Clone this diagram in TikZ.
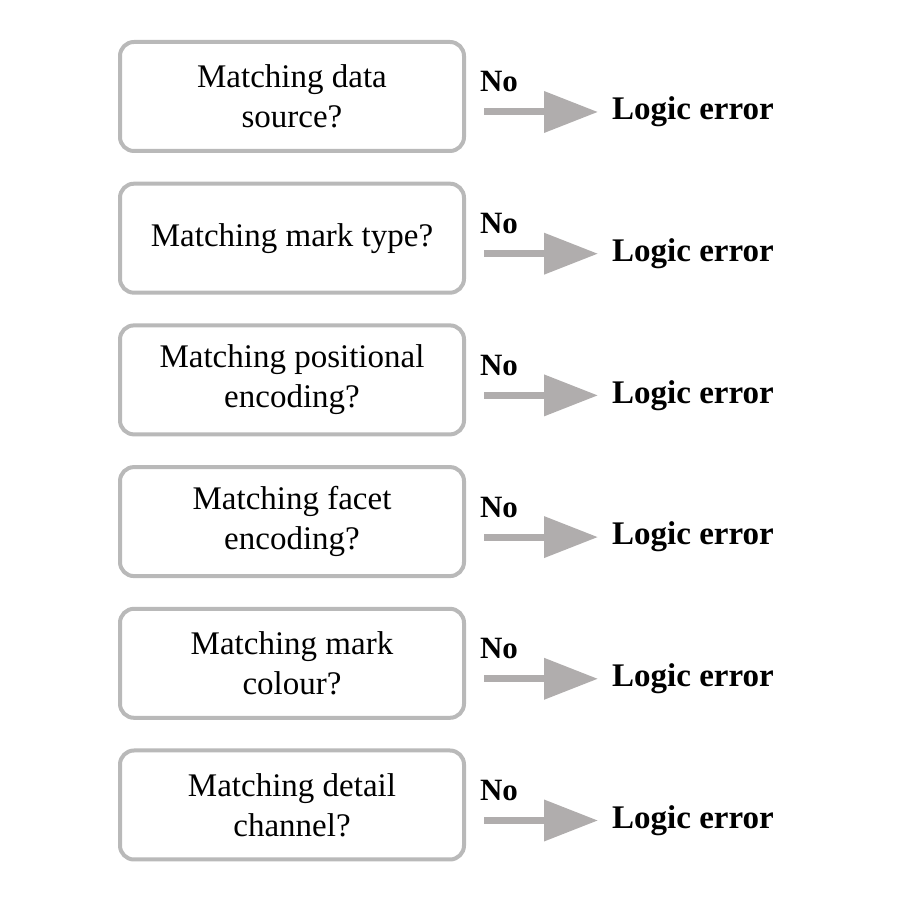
\documentclass[tikz,border=0pt]{standalone}
\usepackage{fontspec}
\setmainfont{Liberation Serif}
\usetikzlibrary{arrows.meta}
\definecolor{boxgray}{RGB}{185,185,185}
\definecolor{arrowgray}{RGB}{176,173,173}
\tikzset{
  qbox/.style={draw=boxgray,line width=4pt,rounded corners=14pt,minimum width=344pt,minimum height=109pt,align=center,font=\fontsize{33}{40}\selectfont,inner sep=0pt},
  nolabel/.style={font=\fontsize{31}{36}\selectfont\bfseries,inner sep=0pt},
  errlabel/.style={font=\fontsize{33}{40}\selectfont\bfseries,inner sep=0pt,anchor=west},
  noarrow/.style={draw=arrowgray,line width=7pt,-{Triangle[length=54pt,width=40pt]}}
}
\begin{document}
\begin{tikzpicture}[x=1pt,y=1pt]
\useasboundingbox (0,0) rectangle (898,907);

% row 1
\node[qbox] (q1) at (292,810.5) {Matching data\\source?};
\node[nolabel] (no1) at (499,825) {No};
\node[errlabel] (err1) at (612,795) {Logic error};
\draw[noarrow] ([xshift=18pt]q1.east |- err1.west) -- ([xshift=-14pt]err1.west);

% row 2
\node[qbox] (q2) at (292,668.8) {Matching mark type?};
\node[nolabel] (no2) at (499,683.3) {No};
\node[errlabel] (err2) at (612,653.3) {Logic error};
\draw[noarrow] ([xshift=18pt]q2.east |- err2.west) -- ([xshift=-14pt]err2.west);

% row 3
\node[qbox] (q3) at (292,527.1) {Matching positional\\encoding?};
\node[nolabel] (no3) at (499,541.6) {No};
\node[errlabel] (err3) at (612,511.6) {Logic error};
\draw[noarrow] ([xshift=18pt]q3.east |- err3.west) -- ([xshift=-14pt]err3.west);

% row 4
\node[qbox] (q4) at (292,385.4) {Matching facet\\encoding?};
\node[nolabel] (no4) at (499,399.9) {No};
\node[errlabel] (err4) at (612,369.9) {Logic error};
\draw[noarrow] ([xshift=18pt]q4.east |- err4.west) -- ([xshift=-14pt]err4.west);

% row 5
\node[qbox] (q5) at (292,243.7) {Matching mark\\colour?};
\node[nolabel] (no5) at (499,258.2) {No};
\node[errlabel] (err5) at (612,228.2) {Logic error};
\draw[noarrow] ([xshift=18pt]q5.east |- err5.west) -- ([xshift=-14pt]err5.west);

% row 6
\node[qbox] (q6) at (292,102) {Matching detail\\channel?};
\node[nolabel] (no6) at (499,116.5) {No};
\node[errlabel] (err6) at (612,86.5) {Logic error};
\draw[noarrow] ([xshift=18pt]q6.east |- err6.west) -- ([xshift=-14pt]err6.west);

\end{tikzpicture}
\end{document}
